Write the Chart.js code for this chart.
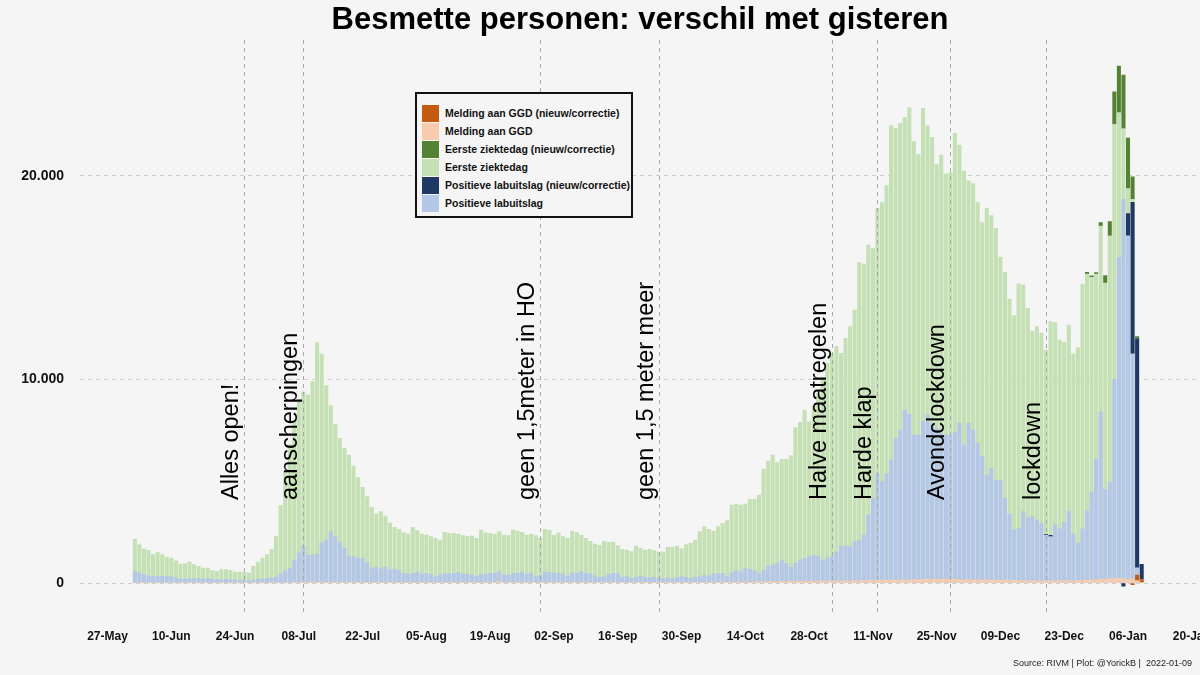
<!DOCTYPE html>
<html>
<head>
<meta charset="utf-8">
<script src="https://cdn.jsdelivr.net/npm/chart.js@4.4.1/dist/chart.umd.min.js"></script>
<style>
html,body{margin:0;padding:0;background:#f5f5f5;}
#wrap{position:relative;width:1200px;height:675px;background:#f5f5f5;font-family:"Liberation Sans",Arial,sans-serif;overflow:hidden;}
#legend{position:absolute;left:415px;top:92px;width:218px;height:126px;box-sizing:border-box;border:2px solid #111;background:#f5f5f5;padding-top:10px;}
.item{display:flex;align-items:center;height:18px;margin-left:5px;}
.sw{width:17px;height:17px;margin-right:6px;flex:none;}
.lab{font-weight:bold;font-size:10.5px;color:#111;white-space:nowrap;}
#footer{position:absolute;right:8px;top:658px;font-size:9px;color:#222;white-space:nowrap;}
</style>
</head>
<body>
<div id="wrap">
<canvas id="c" width="1200" height="675"></canvas>
<div id="legend"></div>
<div id="footer">Source: RIVM | Plot: @YorickB |&nbsp; 2022-01-09</div>
</div>
<script>
// ---------- DATA ----------
const axisOrigin = '2021-05-27';
const firstDate = '2021-06-02';
const tickLabels = ['27-May','10-Jun','24-Jun','08-Jul','22-Jul','05-Aug','19-Aug','02-Sep','16-Sep','30-Sep','14-Oct','28-Oct','11-Nov','25-Nov','09-Dec','23-Dec','06-Jan','20-Jan'];
const yTicks = [0, 10000, 20000];

// Eerste ziektedag (light green), daily from 2021-06-02
const eersteZiektedag = [
2162,1884,1671,1605,1392,1507,1392,1278,1229,1097,
934,950,1032,901,819,737,737,606,573,655,
655,622,541,541,524,491,819,1032,1229,1400,
1650,2300,3800,5500,6800,8000,8900,9400,9238,9894,
11810,11253,9697,8714,7797,7109,6618,6290,5749,5176,
4701,4242,3718,3391,3505,3292,2964,2735,2637,2473,
2408,2735,2572,2408,2359,2277,2195,2113,2490,2441,
2441,2408,2330,2300,2310,2195,2604,2473,2441,2391,
2522,2359,2326,2604,2555,2490,2359,2408,2326,2195,
2637,2604,2342,2457,2277,2195,2555,2473,2359,2195,
2048,1916,1851,2048,1998,2015,1835,1654,1622,1540,
1818,1704,1622,1654,1589,1523,1523,1753,1769,1818,
1687,1884,1949,2113,2523,2768,2637,2555,2768,2932,
3063,3833,3882,3833,3882,4111,4111,4324,5602,5995,
6290,5913,6077,6077,6257,7633,7900,8501,7928,8700,
9300,10000,10800,11286,11613,11286,12023,12596,13415,15741,
15676,16609,16445,18411,18690,19525,22473,22342,22588,22866,
23358,21687,21065,23325,22457,21900,20573,21032,20098,20164,
22097,21523,20246,19755,19623,18690,17707,18411,18051,17428,
16020,15266,13956,13137,14693,14644,13497,12383,12596,12285,
11443,12847,12794,11934,11829,12671,11267,11565,14689,15180,
15023,15180,17532,14742,17059,22534,23113,22324,19375,18849,
12004,0];

// Positieve labuitslag (light blue), daily from 2021-06-02
const positieveLabuitslag = [
557,491,410,360,328,328,328,328,311,246,
197,197,213,213,213,197,229,197,164,164,
197,164,164,131,131,115,164,197,197,229,
246,300,450,600,720,1130,1490,1818,1376,1376,
1425,1982,2113,2523,2277,2015,1703,1327,1294,1228,
1212,999,737,770,704,770,639,688,606,475,
442,475,524,442,475,426,311,393,475,442,
475,524,442,442,393,344,442,442,475,475,
557,393,377,475,475,540,442,475,344,377,
540,524,491,491,442,344,491,491,573,475,
442,344,295,295,426,475,475,295,328,246,
278,344,278,278,278,246,213,246,213,278,
311,278,229,278,311,393,344,475,442,475,
311,508,606,557,721,672,606,475,639,835,
885,966,1130,966,770,966,1130,1212,1294,1376,
1327,1130,1245,1294,1540,1818,1818,1785,2031,2100,
2359,3342,4160,5389,4980,5389,6044,7109,7518,8501,
8288,7273,7273,7961,8256,7846,7600,7355,7273,7273,
7404,7846,6781,7846,7518,6863,6208,5307,5635,5061,
5061,4160,3374,2604,2686,3505,3210,3260,3096,2932,
2352,2282,2878,2668,2984,3510,2404,1966,2668,3545,
4475,6090,8424,4598,4949,10004,16006,18849,17059,11267,
750,180];

// Melding aan GGD (light orange), daily from 2021-06-02
const meldingGGD = [
0,0,0,0,0,0,0,0,0,0,
0,0,0,0,0,0,0,0,0,0,
0,0,0,0,0,0,0,0,0,0,
0,0,0,0,0,
30,40,20,50,60,40,50,30,40,30,
20,30,40,30,20,30,20,30,20,30,
20,30,20,20,30,20,20,30,20,20,
30,20,20,30,20,30,20,20,30,20,
20,30,20,40,30,80,30,20,30,20,
30,20,30,20,30,20,30,20,30,20,
30,20,30,20,20,30,20,20,30,20,
20,30,20,30,20,20,30,20,30,20,
20,30,20,30,20,30,30,20,30,40,
30,40,30,40,50,40,50,60,50,60,
50,60,70,60,70,80,70,80,70,80,
90,80,90,80,90,100,90,100,90,100,
100,110,100,120,110,120,130,120,130,140,
130,150,140,150,160,150,170,160,180,200,
170,190,180,200,190,180,170,160,170,150,
160,150,140,150,140,130,140,120,130,120,
110,120,110,100,110,
100,110,100,120,110,120,110,120,130,140,
150,160,180,200,210,220,230,210,200,180,
115,40];

// Corrections (nieuw/correctie)
const greenNewDates = ['2021-12-28','2021-12-29','2021-12-30','2021-12-31','2022-01-01','2022-01-02','2022-01-03','2022-01-04','2022-01-05','2022-01-06','2022-01-07','2022-01-08'];
const greenNewValues = [90,70,70,175,369,702,1597,2281,2633,2492,1106,105];
const blueNewDates = ['2021-12-19','2021-12-20','2022-01-05','2022-01-06','2022-01-07','2022-01-08','2022-01-09'];
const blueNewValues = [40,60,-150,1088,7441,11254,737];
const orangeNewDates = ['2022-01-07','2022-01-08','2022-01-09'];
const orangeNewValues = [-80,278,130];

// Annotations
const annotationDates = ['2021-06-26','2021-07-09','2021-08-30','2021-09-25','2021-11-02','2021-11-12','2021-11-28','2021-12-19'];
const annotationLabels = ['Alles open!','aanscherpingen','geen 1,5meter in HO','geen 1,5 meter meer','Halve maatregelen','Harde klap','Avondclockdown','lockdown'];

const titleText = 'Besmette personen: verschil met gisteren';

// ---------- helpers ----------
const DAY = 86400000;
const originMs = Date.parse(axisOrigin + 'T00:00:00Z');
const dayNum = s => Math.round((Date.parse(s + 'T00:00:00Z') - originMs) / DAY);
const firstDay = dayNum(firstDate);
const series = arr => arr.map((v, i) => ({x: firstDay + i, y: v}));
const sparse = (dates, vals) => dates.map((d, i) => ({x: dayNum(d), y: vals[i]}));
const FONT = '"Liberation Sans", Arial, sans-serif';

const C = {
  orangeNew: '#C55A11', orange: '#F8CBAD',
  greenNew: '#548235', green: '#C5E0B4',
  blueNew: '#203864', blue: '#B4C7E7'
};

const datasets = [
  {label: 'Melding aan GGD', data: series(meldingGGD), backgroundColor: C.orange, stack: 'o'},
  {label: 'Melding aan GGD (nieuw/correctie)', data: sparse(orangeNewDates, orangeNewValues), backgroundColor: C.orangeNew, stack: 'o'},
  {label: 'Positieve labuitslag', data: series(positieveLabuitslag), backgroundColor: C.blue, stack: 'b'},
  {label: 'Positieve labuitslag (nieuw/correctie)', data: sparse(blueNewDates, blueNewValues), backgroundColor: C.blueNew, stack: 'b'},
  {label: 'Eerste ziektedag', data: series(eersteZiektedag), backgroundColor: C.green, stack: 'g'},
  {label: 'Eerste ziektedag (nieuw/correctie)', data: sparse(greenNewDates, greenNewValues), backgroundColor: C.greenNew, stack: 'g'}
];
datasets.forEach(d => { d.grouped = false; d.barThickness = 3.4; d.borderWidth = 0; });

const legendOrder = ['Melding aan GGD (nieuw/correctie)','Melding aan GGD','Eerste ziektedag (nieuw/correctie)','Eerste ziektedag','Positieve labuitslag (nieuw/correctie)','Positieve labuitslag'];

const fmt = v => String(Math.round(v)).replace(/\B(?=(\d{3})+(?!\d))/g, '.');

const deco = {
  id: 'deco',
  afterDatasetsDraw(chart) {
    const {ctx, chartArea, scales: {x}} = chart;
    ctx.save();
    annotationDates.forEach((d, i) => {
      const px = x.getPixelForValue(dayNum(d));
      ctx.strokeStyle = '#a8a8a8';
      ctx.lineWidth = 1;
      ctx.setLineDash([4, 4]);
      ctx.beginPath();
      ctx.moveTo(Math.round(px) + 0.5, chartArea.top);
      ctx.lineTo(Math.round(px) + 0.5, chartArea.bottom - 3);
      ctx.stroke();
      ctx.setLineDash([]);
      ctx.save();
      ctx.translate(px - 6, 500);
      ctx.rotate(-Math.PI / 2);
      ctx.fillStyle = '#000';
      ctx.font = '23.5px ' + FONT;
      ctx.textAlign = 'left';
      ctx.textBaseline = 'alphabetic';
      ctx.fillText(annotationLabels[i], 0, 0);
      ctx.restore();
    });
    ctx.restore();
  },
  afterDraw(chart) {
    const {ctx, chartArea} = chart;
    ctx.save();
    ctx.fillStyle = '#000';
    ctx.font = 'bold 31px ' + FONT;
    ctx.textAlign = 'center';
    ctx.textBaseline = 'alphabetic';
    ctx.fillText(titleText, (chartArea.left + chartArea.right) / 2, 29);
    ctx.restore();
  }
};

const chart = new Chart(document.getElementById('c'), {
  type: 'bar',
  data: {datasets},
  options: {
    responsive: false,
    animation: false,
    devicePixelRatio: 1,
    layout: {padding: {top: 40, left: 0, right: 0, bottom: 0}},
    plugins: {legend: {display: false}, tooltip: {enabled: false}, title: {display: false}},
    scales: {
      x: {
        type: 'linear',
        min: -6.04, max: 239.8,
        offset: false,
        grid: {display: false},
        border: {display: false},
        ticks: {
          autoSkip: false, maxRotation: 0, minRotation: 0,
          padding: 6, color: '#111', font: {family: FONT, size: 12, weight: 'bold'},
          callback: v => tickLabels[Math.round(v / 14)] || ''
        },
        afterBuildTicks: s => { s.ticks = tickLabels.map((t, i) => ({value: i * 14})); },
        afterFit: s => { s.height = 59.4; s.paddingRight = 0; s.paddingLeft = 0; }
      },
      y: {
        type: 'linear',
        stacked: true,
        min: -1600, max: 26680,
        grid: {color: '#cdcdcd', lineWidth: 1, drawTicks: false},
        border: {display: false, dash: [4, 4]},
        ticks: {
          autoSkip: false, padding: 16, color: '#111',
          font: {family: FONT, size: 14, weight: 'bold'},
          callback: v => fmt(v)
        },
        afterBuildTicks: s => { s.ticks = yTicks.map(v => ({value: v})); },
        afterFit: s => { s.width = 80; }
      }
    }
  },
  plugins: [deco]
});

// HTML legend built from the chart's datasets
const lg = document.getElementById('legend');
legendOrder.forEach(name => {
  const ds = chart.data.datasets.find(d => d.label === name);
  const it = document.createElement('div');
  it.className = 'item';
  it.innerHTML = '<div class="sw" style="background:' + ds.backgroundColor + '"></div><div class="lab"></div>';
  it.querySelector('.lab').textContent = ds.label;
  lg.appendChild(it);
});
</script>
</body>
</html>
